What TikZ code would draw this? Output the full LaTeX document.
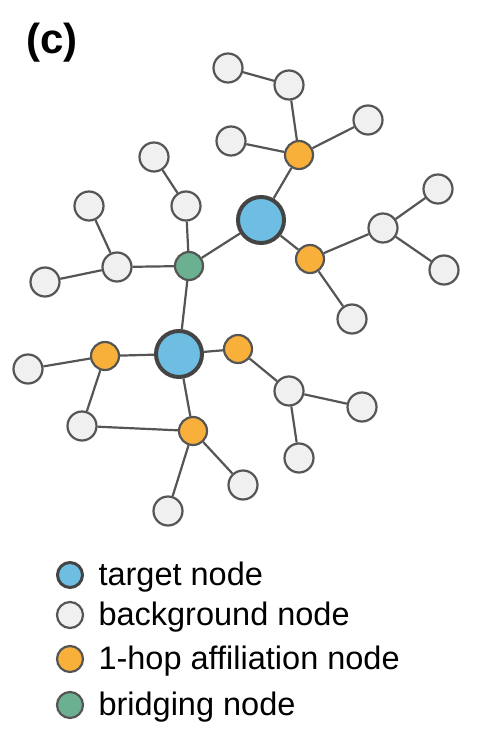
\documentclass[tikz,border=0pt]{standalone}
\usepackage{fontspec}
\setsansfont{Liberation Sans}
\usetikzlibrary{
  positioning
}
\definecolor{edgegray}{HTML}{555555}
\definecolor{ringgray}{HTML}{444444}
\definecolor{bggray}{HTML}{F0F0F0}
\definecolor{targetblue}{HTML}{6EBEE4}
\definecolor{hoporange}{HTML}{F9B03A}
\definecolor{bridgegreen}{HTML}{6BB091}

\begin{document}
\begin{tikzpicture}[
    x=1pt, y=-1pt, font=\sffamily,
    vtx/.style={
      circle,
      draw=edgegray,
      line width=2.2pt,
      inner sep=0pt,
      minimum size=29pt,
      fill=bggray
    },
    hop/.style={vtx, fill=hoporange, minimum size=28pt},
    bridge/.style={vtx, fill=bridgegreen, minimum size=28pt},
    target/.style={vtx, fill=targetblue, draw=ringgray, line width=4pt, minimum size=46pt},
    edge/.style={draw=edgegray, line width=2.2pt},
    keydot/.style={vtx, minimum size=26pt},
    keytext/.style={anchor=base west, font=\sffamily\fontsize{32.5}{40}\selectfont}
  ]

  \useasboundingbox (0,0) rectangle (491,743);

  \node[font=\sffamily\bfseries\fontsize{42}{48}\selectfont] (title) at (52,43) {(c)};

  % Targets
  \node[target] (t1) at (261,220) {};
  \node[target] (t2) at (179,354) {};

  % Bridge
  \node[bridge] (br) at (189,266) {};

  % 1-hop
  \node[hop] (h1) at (299,155) {};
  \node[hop] (h2) at (310,259) {};
  \node[hop] (h3) at (105,356) {};
  \node[hop] (h4) at (238,349) {};
  \node[hop] (h5) at (193,431) {};

  % Background, up
  \node[vtx] (b1) at (228,68) {};
  \node[vtx] (b2) at (289,85) {};
  \node[vtx] (b3) at (368,120) {};
  \node[vtx] (b4) at (231,141) {};

  % Background, right
  \node[vtx] (b5) at (438,189) {};
  \node[vtx] (b6) at (383,228) {};
  \node[vtx] (b7) at (444,270) {};
  \node[vtx] (b8) at (352,319) {};

  % Background, left
  \node[vtx] (b9) at (154,157) {};
  \node[vtx] (b10) at (89,206) {};
  \node[vtx] (b11) at (186,206) {};
  \node[vtx] (b12) at (117,267) {};
  \node[vtx] (b13) at (45,282) {};

  % Background, down
  \node[vtx] (b14) at (28,369) {};
  \node[vtx] (b15) at (82,426) {};
  \node[vtx] (b16) at (289,391) {};
  \node[vtx] (b17) at (362,407) {};
  \node[vtx] (b18) at (299,458) {};
  \node[vtx] (b19) at (243,485) {};
  \node[vtx] (b20) at (168,511) {};

  % Edges
  \draw[edge] (b1) -- (b2) -- (h1) -- (t1);
  \draw[edge] (b4) -- (h1) -- (b3);
  \draw[edge] (t1) -- (h2) -- (b6) -- (b5);
  \draw[edge] (b6) -- (b7);
  \draw[edge] (h2) -- (b8);
  \draw[edge] (t1) -- (br) -- (b11) -- (b9);
  \draw[edge] (br) -- (b12) -- (b10);
  \draw[edge] (b12) -- (b13);
  \draw[edge] (br) -- (t2) -- (h3) -- (b14);
  \draw[edge] (h3) -- (b15) -- (h5) -- (t2);
  \draw[edge] (h5) -- (b20);
  \draw[edge] (h5) -- (b19);
  \draw[edge] (t2) -- (h4) -- (b16) -- (b17);
  \draw[edge] (b16) -- (b18);

  % Legend
  \node[keydot, fill=targetblue, draw=ringgray, line width=3pt, minimum size=25pt] (k1) at (70,575) {};
  \node[keytext] (k1t) at (95,585) {target node};
  \node[keydot] (k2) at (70,615) {};
  \node[keytext] (k2t) at (95,625) {background node};
  \node[keydot, fill=hoporange] (k3) at (70,659) {};
  \node[keytext] (k3t) at (95,669) {1-hop affiliation node};
  \node[keydot, fill=bridgegreen] (k4) at (70,705) {};
  \node[keytext] (k4t) at (95,715) {bridging node};

\end{tikzpicture}
\end{document}
